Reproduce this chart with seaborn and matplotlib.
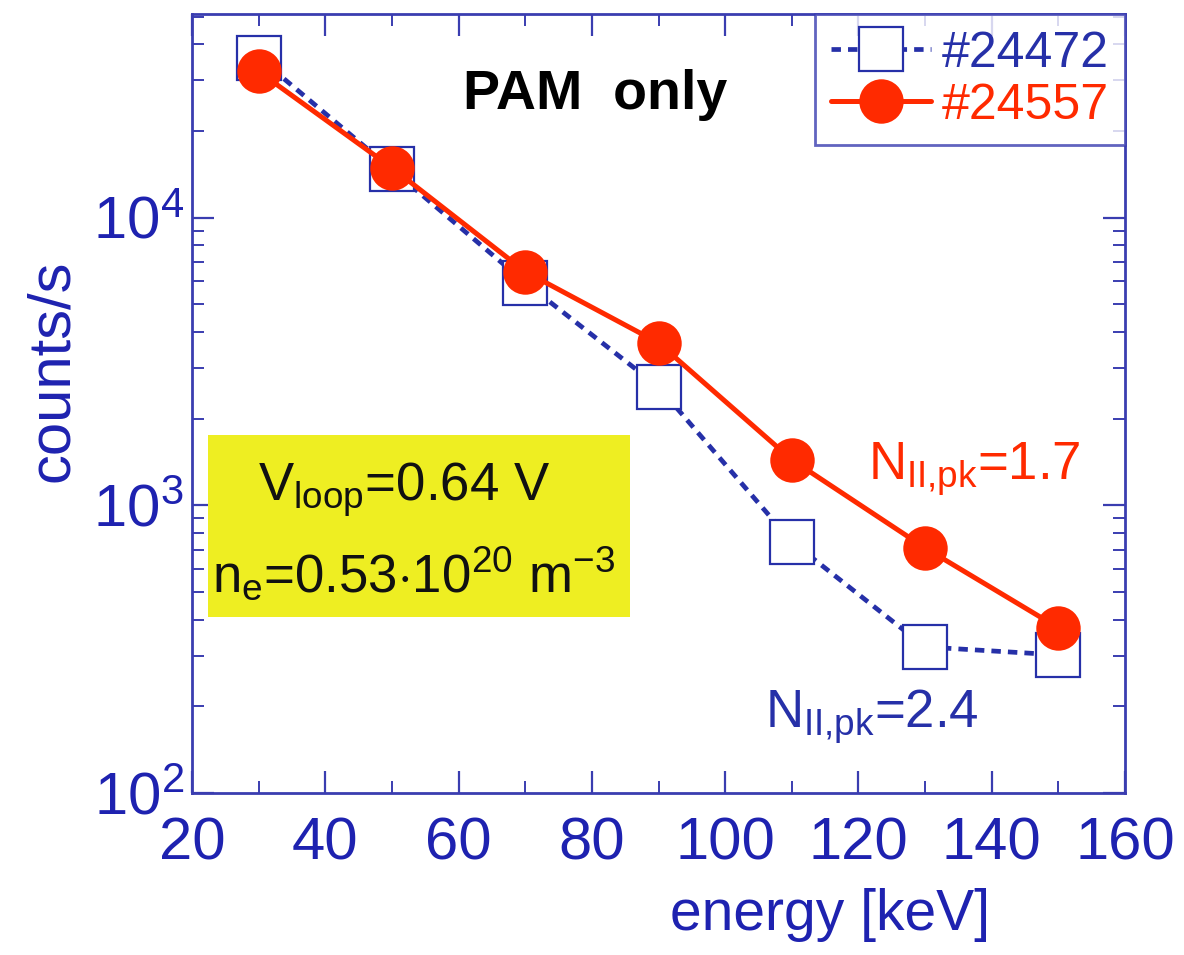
import matplotlib
matplotlib.use("Agg")
import matplotlib.pyplot as plt
import seaborn as sns
import pandas as pd
from matplotlib.patches import Rectangle
from matplotlib.ticker import LogLocator, MultipleLocator, NullFormatter

# ---- data ----
energy = [30, 50, 70, 90, 110, 130, 150]
counts_24472 = [36000, 14700, 5940, 2580, 747, 322, 302]
counts_24557 = [32200, 14900, 6490, 3670, 1440, 711, 375]
label_a = "#24472"
label_b = "#24557"
xticks = [20, 40, 60, 80, 100, 120, 140, 160]

BLUE = "#2630a8"
AXBLUE = "#3a3db0"
RED = "#ff2a00"
YELLOW = "#eeee22"

sns.set_theme(style="white")
plt.rcParams["font.family"] = ["Liberation Sans", "DejaVu Sans"]
plt.rcParams["mathtext.fontset"] = "custom"
plt.rcParams["mathtext.rm"] = "Liberation Sans"
plt.rcParams["mathtext.it"] = "Liberation Sans:italic"
plt.rcParams["mathtext.bf"] = "Liberation Sans:bold"

fig = plt.figure(figsize=(11.84, 9.55), dpi=100)
ax = fig.add_axes([0.1622, 0.1696, 0.9502 - 0.1622, 0.9853 - 0.1696])

df_a = pd.DataFrame({"energy": energy, "counts": counts_24472})
df_b = pd.DataFrame({"energy": energy, "counts": counts_24557})

sns.lineplot(data=df_a, x="energy", y="counts", ax=ax, color=BLUE,
             linewidth=3.4, dashes=False, linestyle=(0, (2.0, 1.5)),
             marker="s", markersize=31, markerfacecolor="white",
             markeredgecolor=BLUE, markeredgewidth=1.6, label=label_a, zorder=3)
sns.lineplot(data=df_b, x="energy", y="counts", ax=ax, color=RED,
             linewidth=3.6, marker="o", markersize=32, markerfacecolor=RED,
             markeredgecolor=RED, markeredgewidth=0, label=label_b, zorder=4)

ax.set_yscale("log")
ax.set_xlim(20, 160)
ax.set_ylim(100, 51000)
ax.set_xticks(xticks)
ax.xaxis.set_minor_locator(MultipleLocator(10))
ax.yaxis.set_major_locator(LogLocator(base=10, numticks=10))
ax.yaxis.set_minor_locator(LogLocator(base=10, subs=range(2, 10), numticks=20))
ax.yaxis.set_minor_formatter(NullFormatter())

for s in ax.spines.values():
    s.set_color(AXBLUE)
    s.set_linewidth(2.0)
ax.tick_params(which="both", direction="in", top=True, right=True,
               bottom=True, left=True,
               color=AXBLUE, labelcolor="#1e22b0", labelsize=43)
ax.tick_params(which="major", length=16, width=1.6)
ax.tick_params(which="minor", length=8.5, width=1.4)
ax.tick_params(axis="x", which="major", pad=17)
ax.tick_params(axis="y", which="major", pad=6)

ax.set_xlabel("energy [keV]", fontsize=41, color="#1e22b0")
ax.set_ylabel("counts/s", fontsize=43, color="#1e22b0")
ax.xaxis.set_label_coords(0.684, -0.122)
ax.yaxis.set_label_coords(-0.12, 0.542)

# legend
leg = ax.legend(loc="upper right", bbox_to_anchor=(1.0, 1.0), borderaxespad=0,
                fontsize=36, frameon=True, fancybox=False, handlelength=2.0,
                handletextpad=0.2, labelspacing=0.12, borderpad=0.33,
                markerscale=1.0)
leg.get_frame().set_edgecolor(AXBLUE)
leg.get_frame().set_linewidth(2.0)
for t, c in zip(leg.get_texts(), [BLUE, RED]):
    t.set_color(c)

# annotations
ax.text(0.432, 0.896, "PAM  only", transform=ax.transAxes, fontsize=40,
        fontweight="bold", color="black", ha="center", va="center")

ax.add_patch(Rectangle((0.017, 0.226), 0.452, 0.234, transform=ax.transAxes,
                       facecolor=YELLOW, edgecolor="none", zorder=1))
ax.text(0.227, 0.375, r"V$_{\rm loop}$=0.64 V", transform=ax.transAxes,
        fontsize=38, color="#111111", ha="center", va="baseline", zorder=2)
ax.text(0.237, 0.258, r"n$_{\rm e}$=0.53$\cdot$10$^{\rm 20}$ m$^{{-}\rm 3}$",
        transform=ax.transAxes, fontsize=38, color="#111111", ha="center",
        va="baseline", zorder=2)

ax.text(0.725, 0.402, r"N$_{\rm II{,}pk}$=1.7", transform=ax.transAxes,
        fontsize=38, color=RED, ha="left", va="baseline")
ax.text(0.614, 0.084, r"N$_{\rm II{,}pk}$=2.4", transform=ax.transAxes,
        fontsize=38, color=BLUE, ha="left", va="baseline")

fig.savefig("out.png", dpi=100)
